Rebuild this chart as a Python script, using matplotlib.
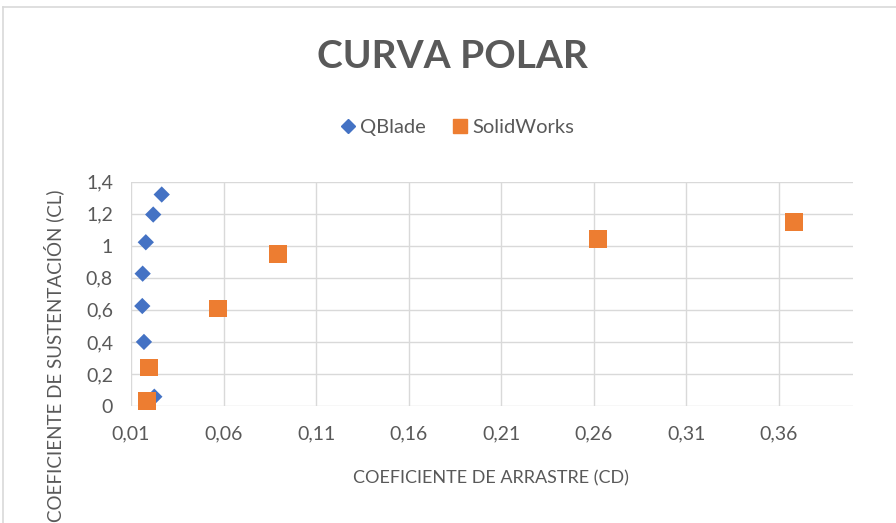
import matplotlib
matplotlib.use("Agg")
import matplotlib.pyplot as plt
from matplotlib.lines import Line2D

plt.rcParams['font.family'] = ['Lato', 'DejaVu Sans']

# Data
qblade_cd = [0.0266, 0.0220, 0.0180, 0.0163, 0.0161, 0.0170, 0.0226]
qblade_cl = [1.32, 1.195, 1.022, 0.826, 0.624, 0.40, 0.058]
solid_cd = [0.0185, 0.0199, 0.0571, 0.0895, 0.2622, 0.3684]
solid_cl = [0.03, 0.24, 0.608, 0.95, 1.042, 1.147]

x_ticks = [0.01, 0.06, 0.11, 0.16, 0.21, 0.26, 0.31, 0.36]
x_tick_labels = ["0,01", "0,06", "0,11", "0,16", "0,21", "0,26", "0,31", "0,36"]
y_ticks = [0, 0.2, 0.4, 0.6, 0.8, 1.0, 1.2, 1.4]
y_tick_labels = ["0", "0,2", "0,4", "0,6", "0,8", "1", "1,2", "1,4"]

W, H = 896, 523
fig = plt.figure(figsize=(W / 100, H / 100), dpi=100)
ax = fig.add_axes([131 / W, 1 - 406 / H, (852.7 - 131) / W, (406 - 181.7) / H])

grey = '#595959'
grid = '#d9d9d9'

ax.scatter(qblade_cd, qblade_cl, marker='D', s=8.3 ** 2, color='#4472C4',
           edgecolors='none', zorder=3, clip_on=False, label='QBlade')
ax.scatter(solid_cd, solid_cl, marker='s', s=12.8 ** 2, color='#ED7D31',
           edgecolors='none', zorder=4, clip_on=False, label='SolidWorks')

ax.set_xlim(0.01, 0.40)
ax.set_ylim(0, 1.4)
ax.set_xticks(x_ticks)
ax.set_xticklabels(x_tick_labels)
ax.set_yticks(y_ticks)
ax.set_yticklabels(y_tick_labels)
ax.grid(True, color=grid, linewidth=1.0)
ax.set_axisbelow(True)
for s in ax.spines.values():
    s.set_visible(False)
ax.tick_params(length=0, labelsize=14, labelcolor=grey, pad=13)
ax.tick_params(axis='x', pad=14)

fig.text(491 / W, 1 - 478 / H, 'COEFICIENTE DE ARRASTRE (CD)', ha='center', va='center',
         fontsize=13, color=grey)
fig.text(54 / W, 1 - 190 / H, 'COEFICIENTE DE SUSTENTACIÓN (CL)', ha='center', va='top',
         rotation=90, fontsize=13.5, color=grey)

fig.text(452 / W, 1 - 57 / H, 'CURVA POLAR', ha='center', va='center',
         fontsize=28, fontweight='bold', color=grey)

handles = [Line2D([], [], marker='D', linestyle='none', color='#4472C4', markersize=7.5),
           Line2D([], [], marker='s', linestyle='none', color='#ED7D31', markersize=10.5)]
leg = fig.legend(handles, ['QBlade', 'SolidWorks'], loc='center', bbox_to_anchor=(458 / W, 1 - 127 / H),
                 ncol=2, frameon=False, fontsize=14.5, handlelength=0.6, handletextpad=0.3,
                 columnspacing=1.4, labelcolor=grey)

# chart border (top and left visible)
fig.add_artist(Line2D([3 / W, 3 / W], [0, 1 - 7 / H], color='#d9d9d9', linewidth=1.2))
fig.add_artist(Line2D([3 / W, 1], [1 - 7 / H, 1 - 7 / H], color='#d9d9d9', linewidth=1.2))

fig.savefig('out.png', dpi=100)
